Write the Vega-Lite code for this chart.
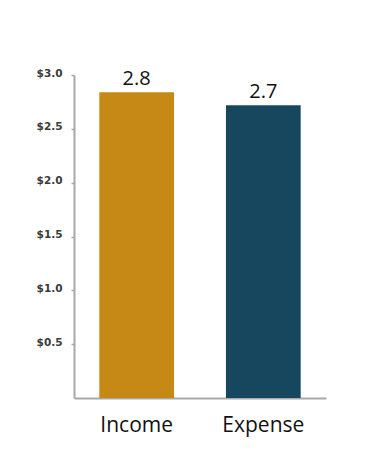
{
  "$schema": "https://vega.github.io/schema/vega-lite/v6.json",
  "autosize": "none",
  "width": 252,
  "height": 323,
  "padding": {"left": 74, "top": 75, "right": 61, "bottom": 68},
  "background": "white",
  "config": {"view": {"stroke": null}},
  "data": {"values": [
    {"category": "Income", "value": 2.84},
    {"category": "Expense", "value": 2.72}
  ]},
  "encoding": {
    "x": {"field": "category", "type": "nominal", "sort": ["Income", "Expense"],
      "scale": {"paddingInner": 0.41, "paddingOuter": 0.2},
      "axis": {"title": null, "labelAngle": 0, "ticks": false, "domainColor": "#a8a8a8", "domainWidth": 2,
        "labelFont": "Open Sans", "labelFontSize": 21, "labelColor": "#111111", "labelPadding": 16}},
    "y": {"field": "value", "type": "quantitative",
      "scale": {"domain": [0, 3], "nice": false},
      "axis": {"title": null, "values": [0.5, 1, 1.5, 2, 2.5, 3], "format": "$.1f", "grid": false,
        "domainColor": "#a8a8a8", "domainWidth": 2, "tickColor": "#a8a8a8", "tickSize": 3, "tickWidth": 1.5,
        "labelFont": "DejaVu Sans", "labelFontSize": 10.5, "labelFontWeight": "bold", "labelColor": "#3a3a3a",
        "labelPadding": 9, "labelOffset": -2}}
  },
  "layer": [
    {"mark": {"type": "bar"},
     "encoding": {"color": {"field": "category", "type": "nominal",
       "scale": {"domain": ["Income", "Expense"], "range": ["#C68916", "#17475F"]}, "legend": null}}},
    {"mark": {"type": "text", "baseline": "alphabetic", "dy": -7.5, "font": "Open Sans", "fontSize": 20, "color": "#111111"},
     "encoding": {"text": {"field": "value", "type": "quantitative", "format": ".1f"}}}
  ]
}
